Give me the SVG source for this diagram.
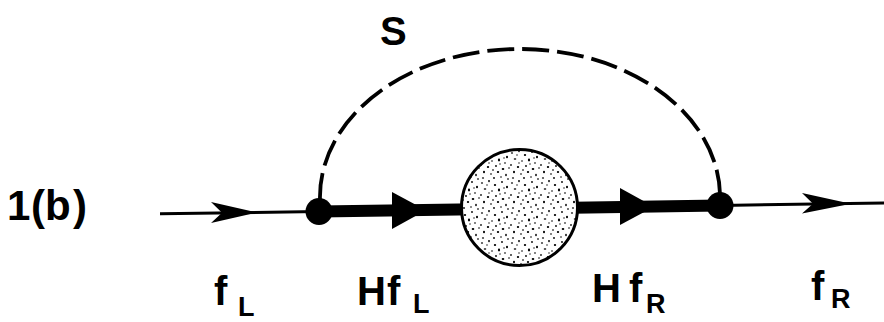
<svg xmlns="http://www.w3.org/2000/svg" width="884" height="322" viewBox="0 0 884 322">
<style>
.lbl{font-family:"Liberation Sans",Arial,sans-serif;font-weight:bold;fill:#000}
.main{font-size:40px}
.sub{font-size:27px}
.thin{stroke:#000;stroke-width:3;fill:none}
.thick{stroke:#000;stroke-width:12;fill:none}
.dash{stroke:#000;stroke-width:3.8;fill:none;stroke-dasharray:27 8}
.blk{fill:#000}
</style>
<defs>
<pattern id="stip" patternUnits="userSpaceOnUse" width="30" height="30">
<rect width="30" height="30" fill="#fff"/>
<g fill="#000">
<ellipse cx="2" cy="3" rx="1.1" ry="0.8"/>
<ellipse cx="9" cy="1" rx="0.8" ry="1.2"/>
<ellipse cx="15" cy="5" rx="1.2" ry="0.9"/>
<ellipse cx="22" cy="2" rx="0.9" ry="0.9"/>
<ellipse cx="27" cy="7" rx="1" ry="1.3"/>
<ellipse cx="5" cy="9" rx="1.3" ry="0.8"/>
<ellipse cx="12" cy="11" rx="0.8" ry="0.8"/>
<ellipse cx="19" cy="10" rx="1.1" ry="1.4"/>
<ellipse cx="25" cy="13" rx="0.9" ry="0.8"/>
<ellipse cx="1" cy="15" rx="0.8" ry="1.1"/>
<ellipse cx="8" cy="17" rx="1.2" ry="0.9"/>
<ellipse cx="16" cy="16" rx="0.9" ry="1"/>
<ellipse cx="23" cy="19" rx="1.3" ry="1"/>
<ellipse cx="29" cy="18" rx="0.8" ry="0.8"/>
<ellipse cx="4" cy="22" rx="1" ry="1.3"/>
<ellipse cx="11" cy="24" rx="0.9" ry="0.8"/>
<ellipse cx="18" cy="22" rx="1.2" ry="0.9"/>
<ellipse cx="26" cy="25" rx="0.8" ry="1.2"/>
<ellipse cx="3" cy="28" rx="1.1" ry="0.8"/>
<ellipse cx="14" cy="28" rx="0.9" ry="1.1"/>
<ellipse cx="21" cy="27" rx="0.8" ry="0.8"/>
<ellipse cx="28" cy="29" rx="1" ry="0.8"/>
<ellipse cx="7" cy="5" rx="0.7" ry="0.7"/>
<ellipse cx="20" cy="14" rx="0.7" ry="0.7"/>
<ellipse cx="13" cy="20" rx="0.7" ry="0.9"/>
<ellipse cx="24" cy="8" rx="0.7" ry="0.7"/>
<ellipse cx="9" cy="13" rx="0.7" ry="0.7"/>
</g>
</pattern>
</defs>
<rect width="884" height="322" fill="#fff"/>

<g id="connectors">
<path id="dashed-S" class="dash" d="M320,200 A200,148 0 0 1 720,194"/>
<line class="thin" x1="160" y1="213.8" x2="319" y2="211.5"/>
<line class="thin" x1="720" y1="205.5" x2="884" y2="203"/>
<line class="thick" x1="319" y1="211.5" x2="720" y2="205.5"/>
<path class="blk" d="M211,202 L257,212.6 L211,223 L222,212.8 Z"/>
<path class="blk" d="M802,193 L851,203.7 L802,213.5 L813,203.8 Z"/>
<path class="blk" d="M392,192 L426,210.2 L392,229 Z"/>
<path class="blk" d="M620,188 L654,206.7 L620,225 Z"/>
</g>

<g id="node-left">
<circle class="blk" cx="319" cy="211.5" r="13.5"/>
</g>
<g id="node-scatterer">
<circle cx="519.5" cy="207.5" r="58" fill="url(#stip)" stroke="#000" stroke-width="3"/>
</g>
<g id="node-right">
<circle class="blk" cx="720" cy="205.5" r="13.5"/>
</g>

<g id="labels">
<text class="lbl" x="7" y="220" style="font-size:42px"><tspan x="7">1</tspan><tspan x="31">(</tspan><tspan x="45">b</tspan><tspan x="73">)</tspan></text>
<text class="lbl main" x="380" y="45">S</text>
<text class="lbl"><tspan class="main" x="214" y="305">f</tspan><tspan class="sub" x="238" y="316">L</tspan></text>
<text class="lbl"><tspan class="main" x="357" y="305">H</tspan><tspan class="main" x="387" y="305">f</tspan><tspan class="sub" x="413" y="313">L</tspan></text>
<text class="lbl"><tspan class="main" x="592" y="302">H</tspan><tspan class="main" x="629" y="302">f</tspan><tspan class="sub" x="646" y="313">R</tspan></text>
<text class="lbl"><tspan class="main" x="811" y="300">f</tspan><tspan class="sub" x="831" y="308">R</tspan></text>
</g>
</svg>
